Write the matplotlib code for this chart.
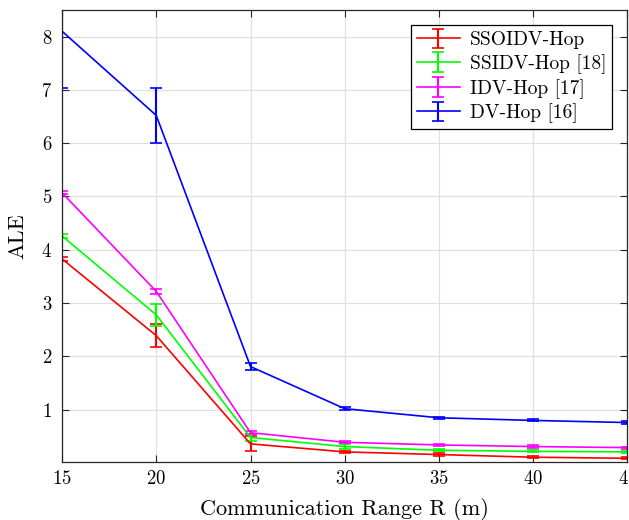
import numpy as np
import matplotlib
matplotlib.use('Agg')
import matplotlib.pyplot as plt

plt.rcParams['font.family'] = 'serif'
plt.rcParams['font.serif'] = ['cmr10']
plt.rcParams['mathtext.fontset'] = 'cm'
plt.rcParams['axes.formatter.use_mathtext'] = True

R = [15, 20, 25, 30, 35, 40, 45]

ssoidv = [3.83, 2.39, 0.36, 0.21, 0.16, 0.11, 0.09]
ssoidv_err = [0.04, 0.21, 0.14, 0.02, 0.02, 0.02, 0.02]

ssidv = [4.26, 2.78, 0.48, 0.31, 0.24, 0.22, 0.21]
ssidv_err = [0.04, 0.20, 0.06, 0.04, 0.02, 0.02, 0.02]

idv = [5.07, 3.22, 0.57, 0.39, 0.34, 0.31, 0.29]
idv_err = [0.03, 0.04, 0.03, 0.02, 0.02, 0.02, 0.02]

dv = [8.10, 6.52, 1.81, 1.02, 0.85, 0.80, 0.76]
dv_err = [1.07, 0.52, 0.07, 0.03, 0.02, 0.02, 0.02]

fig = plt.figure(figsize=(6.29, 5.2), dpi=100)
ax = fig.add_axes([0.0986, 0.1115, 0.899, 0.8695])

series = [
    (ssoidv, ssoidv_err, '#ff0000', 'SSOIDV-Hop'),
    (ssidv, ssidv_err, '#00ff00', 'SSIDV-Hop [18]'),
    (idv, idv_err, '#ff00ff', 'IDV-Hop [17]'),
    (dv, dv_err, '#0000ff', 'DV-Hop [16]'),
]
for y, e, c, lab in series:
    ax.errorbar(R, y, yerr=e, color=c, lw=1.2, elinewidth=1.5, capsize=4,
                capthick=1.2, label=lab)

ax.set_xlim(15, 45)
ax.set_ylim(0.02, 8.5)
ax.set_xticks(R)
ax.set_yticks([1, 2, 3, 4, 5, 6, 7, 8])
ax.tick_params(direction='in', top=True, right=True, labelsize=13.5, length=5,
               color='#262626')
ax.tick_params(axis='x', pad=6)
ax.tick_params(axis='y', pad=7)
ax.grid(True, color='#e0e0e0', lw=0.9)
ax.set_axisbelow(True)
for s in ax.spines.values():
    s.set_color('#262626')
    s.set_linewidth(0.9)

ax.set_xlabel('Communication Range R (m)', fontsize=16, labelpad=7)
ax.set_ylabel('ALE', fontsize=16, labelpad=10)

leg = ax.legend(loc='upper right', fontsize=14, fancybox=False, framealpha=1,
                edgecolor='black', borderaxespad=0.8, handlelength=2.2,
                borderpad=0.3, labelspacing=0.25, handletextpad=0.5)
leg.get_frame().set_linewidth(0.9)

fig.savefig('out.png', dpi=100)
